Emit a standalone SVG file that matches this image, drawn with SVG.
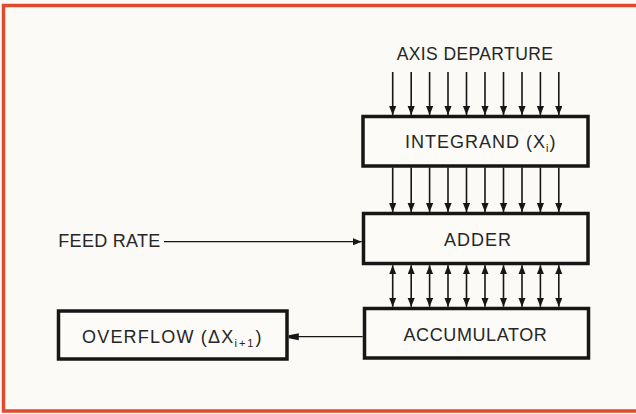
<svg xmlns="http://www.w3.org/2000/svg" width="636" height="414" viewBox="0 0 636 414">
<style>
.bg{fill:#fbfaf6}
.frame{fill:none;stroke:#e04a2e;stroke-width:3.5}
.box{fill:#fcfbf8;stroke:#161616;stroke-width:3.5}
.lbl{font-family:"Liberation Sans",Arial,sans-serif;font-size:18px;fill:#262626}
.sub{font-size:11px}
.ln{stroke:#161616;stroke-width:1.6;fill:none}
.thin{stroke:#161616;stroke-width:1.2;fill:none}
</style>
<defs>
<marker id="ah" markerUnits="userSpaceOnUse" markerWidth="10" markerHeight="8" refX="9" refY="3.6" orient="auto-start-reverse">
<path d="M0,0 L9,3.6 L0,7.2 Z" fill="#161616"/>
</marker>
<marker id="ahb" markerUnits="userSpaceOnUse" markerWidth="11" markerHeight="10" refX="10" refY="4.5" orient="auto">
<path d="M0,1 L10,3 L10,6 L0,8 Z" fill="#161616"/>
</marker>
</defs>
<rect class="bg" x="0" y="0" width="636" height="414"/>
<path class="frame" d="M640,5.5 H3.5 V411 H640"/>

<g id="axis-departure">
<text class="lbl" x="475" y="60" text-anchor="middle" style="font-size:17.5px;letter-spacing:0.4px">AXIS DEPARTURE</text>
</g>

<g id="integrand">
<rect class="box" x="363" y="116.5" width="225" height="49.5"/>
<text class="lbl" x="405" y="148" style="letter-spacing:1px">INTEGRAND (X<tspan class="sub" dy="4">i</tspan><tspan dy="-4">)</tspan></text>
</g>

<g id="adder">
<rect class="box" x="363.5" y="213.5" width="224.5" height="50"/>
<text class="lbl" x="444" y="245.5" style="letter-spacing:1px">ADDER</text>
</g>

<g id="accumulator">
<rect class="box" x="364.5" y="308.5" width="224" height="49.5"/>
<text class="lbl" x="403.5" y="340.5" style="letter-spacing:0.6px">ACCUMULATOR</text>
</g>

<g id="overflow">
<rect class="box" x="58.5" y="311" width="228.5" height="48"/>
<text class="lbl" x="82" y="342.5" style="letter-spacing:1.2px">OVERFLOW (ΔX<tspan class="sub" dy="4" style="letter-spacing:2px">i+1</tspan><tspan dy="-4">)</tspan></text>
</g>

<g id="feed-rate">
<text class="lbl" x="58.3" y="246.7" style="letter-spacing:0.3px">FEED RATE</text>
</g>

<g id="connectors">
<g class="ln" marker-end="url(#ah)">
<line x1="392.7" y1="72" x2="392.7" y2="115"/>
<line x1="411.2" y1="72" x2="411.2" y2="115"/>
<line x1="429.6" y1="72" x2="429.6" y2="115"/>
<line x1="448" y1="72" x2="448" y2="115"/>
<line x1="466.5" y1="72" x2="466.5" y2="115"/>
<line x1="485" y1="72" x2="485" y2="115"/>
<line x1="503.5" y1="72" x2="503.5" y2="115"/>
<line x1="522" y1="72" x2="522" y2="115"/>
<line x1="540.4" y1="72" x2="540.4" y2="115"/>
<line x1="558.8" y1="72" x2="558.8" y2="115"/>

<line x1="392.7" y1="167.5" x2="392.7" y2="212"/>
<line x1="411.2" y1="167.5" x2="411.2" y2="212"/>
<line x1="429.6" y1="167.5" x2="429.6" y2="212"/>
<line x1="448" y1="167.5" x2="448" y2="212"/>
<line x1="466.5" y1="167.5" x2="466.5" y2="212"/>
<line x1="485" y1="167.5" x2="485" y2="212"/>
<line x1="503.5" y1="167.5" x2="503.5" y2="212"/>
<line x1="522" y1="167.5" x2="522" y2="212"/>
<line x1="540.4" y1="167.5" x2="540.4" y2="212"/>
<line x1="558.8" y1="167.5" x2="558.8" y2="212"/>
</g>
<g class="ln" marker-start="url(#ah)" marker-end="url(#ah)">
<line x1="392.7" y1="265.3" x2="392.7" y2="306.8"/>
<line x1="411.2" y1="265.3" x2="411.2" y2="306.8"/>
<line x1="429.6" y1="265.3" x2="429.6" y2="306.8"/>
<line x1="448" y1="265.3" x2="448" y2="306.8"/>
<line x1="466.5" y1="265.3" x2="466.5" y2="306.8"/>
<line x1="485" y1="265.3" x2="485" y2="306.8"/>
<line x1="503.5" y1="265.3" x2="503.5" y2="306.8"/>
<line x1="522" y1="265.3" x2="522" y2="306.8"/>
<line x1="540.4" y1="265.3" x2="540.4" y2="306.8"/>
<line x1="558.8" y1="265.3" x2="558.8" y2="306.8"/>
</g>
<line class="thin" x1="164" y1="241.7" x2="361.8" y2="241.7" marker-end="url(#ah)"/>
<line class="thin" x1="362.7" y1="336.7" x2="288.8" y2="336.7" marker-end="url(#ahb)"/>
</g>
</svg>
